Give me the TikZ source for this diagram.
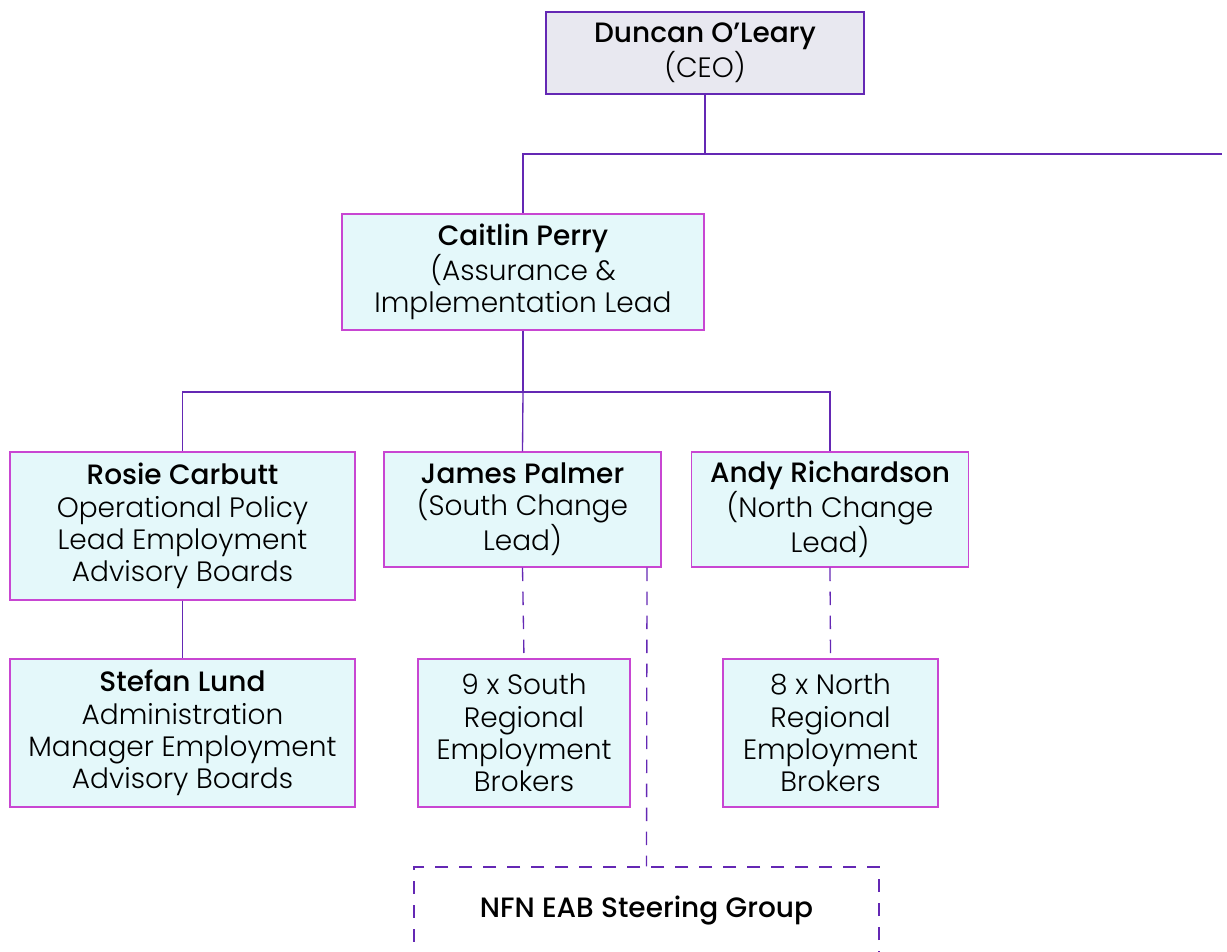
\documentclass[tikz,border=0pt]{standalone}
\usepackage{fontspec}
\setmainfont{Poppins}[UprightFont=* Light, BoldFont=* Medium]
\usepackage{tikz}
\usetikzlibrary{positioning}

\definecolor{linepurple}{RGB}{100,40,180}
\definecolor{boxmagenta}{RGB}{200,70,210}
\definecolor{cyanfill}{RGB}{228,248,250}
\definecolor{greyfill}{RGB}{232,232,240}

\begin{document}
\begin{tikzpicture}[x=0.75pt, y=-0.75pt,
  box/.style={rectangle, draw=boxmagenta, fill=cyanfill, line width=1pt, align=center,
    inner sep=2pt, font=\fontsize{21}{24.2}\selectfont},
  link/.style={draw=linepurple, line width=1pt},
  dashlink/.style={draw=linepurple, line width=1pt, dash pattern=on 10pt off 8pt}]
 \clip (0,0) rectangle (1227,951);
 \useasboundingbox (0,0) rectangle (1227,951);
 \node [box, draw=linepurple, fill=greyfill, minimum width=238.5pt, minimum height=61.5pt] (ceo) at (705,53) {\textbf{Duncan O’Leary}\\(CEO)};
 \node [box, minimum width=271.5pt, minimum height=87pt] (perry) at (523,272) {\textbf{Caitlin Perry}\\(Assurance \&\\Implementation Lead};
 \node [box, minimum width=258.75pt, minimum height=111pt] (carbutt) at (182.5,526) {\textbf{Rosie Carbutt}\\Operational Policy\\Lead Employment\\Advisory Boards};
 \node [box, minimum width=207.75pt, minimum height=86.25pt] (palmer) at (522.5,509.5) {\textbf{James Palmer}\\(South Change\\Lead)};
 \node [box, minimum width=207.75pt, minimum height=86.25pt] (richardson) at (830,509.5) {\textbf{Andy Richardson}\\(North Change\\Lead)};
 \node [box, minimum width=258.75pt, minimum height=111pt] (lund) at (182.5,733) {\textbf{Stefan Lund}\\Administration\\Manager Employment\\Advisory Boards};
 \node [box, minimum width=159pt, minimum height=111pt] (south) at (524,733) {9 x South\\Regional\\Employment\\Brokers};
 \node [box, minimum width=161.25pt, minimum height=111pt] (north) at (830.5,733) {8 x North\\Regional\\Employment\\Brokers};
 \node [box, draw=linepurple, fill=white, dash pattern=on 10pt off 8pt, minimum width=348.75pt, minimum height=66pt] (steering) at (646.5,911) {\textbf{NFN EAB Steering Group}};
 \coordinate (offpage) at (1222,154);
 % solid lines
 \draw [link] (ceo.south) -- (705,154) -- (offpage);
 \draw [link] (705,154) -| (perry.north);
 \draw [link] (perry.south) -- (523,392) -| (carbutt.north);
 \draw [link] (523,392) -| (richardson.north);
 \draw [link] (523,392) -- (palmer.north);
 \draw [link] (carbutt) -- (lund);
 % dashed lines
 \draw [dashlink] (palmer.south) -- (south.north);
 \draw [dashlink] (richardson.south) -- (north.north);
 \draw [dashlink] (palmer.south -| steering.north) ++(0.5,0) -- (steering.north);
\end{tikzpicture}
\end{document}
